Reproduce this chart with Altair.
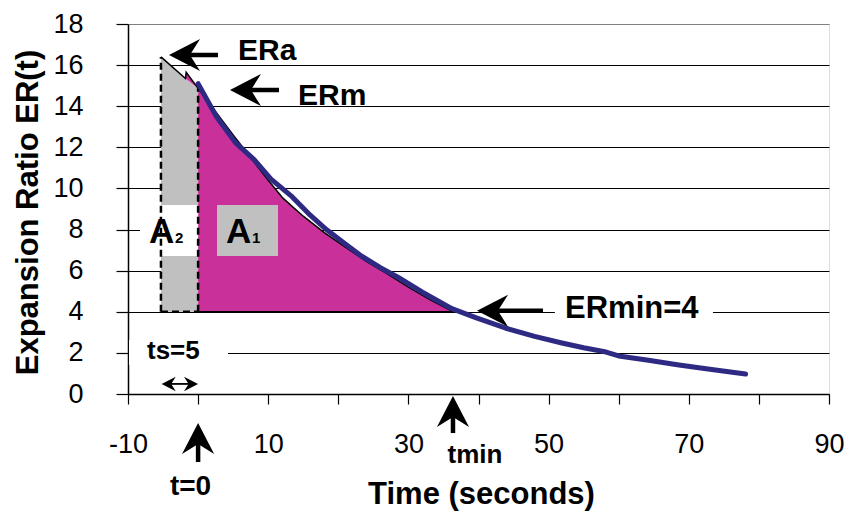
import altair as alt
import pandas as pd

# ---- data ----
# measured expansion ratio (thick blue curve)
t_meas = [0, 2.6, 5.4, 8, 10.4, 13.4, 16, 18.3, 21, 23.1, 26, 28.5, 32, 36.2,
          39.7, 43.9, 48, 51.9, 55, 58.2, 60.0, 64, 68.6, 73, 78.1]
er_meas = [15.1, 13.5, 12.2, 11.4, 10.45, 9.6, 8.7, 8.0, 7.3, 6.76, 6.15, 5.68,
           4.95, 4.15, 3.7, 3.2, 2.8, 2.48, 2.25, 2.04, 1.85, 1.65, 1.41, 1.2, 0.97]

# thin black model curve (starts at ERa, t = -ts)
t_fit = [-5.3, -1.8, -1.7, 0, 5, 10, 12.1, 15, 18, 21, 24, 27, 30, 33, 36.4]
er_fit = [16.4, 15.35, 15.65, 14.87, 12.6, 10.4, 9.53, 8.65, 7.85, 7.15, 6.45,
          5.85, 5.2, 4.6, 4.0]

# grey area A2 (t from -ts to 0)
t_gray = [-5.3, -1.8, 0]
er_gray = [16.4, 15.35, 14.87]

# tiny magenta sliver at the top of the t=0 line
t_spike = [-1.8, -1.7, 0]
er_spike_top = [15.35, 15.65, 14.87]
er_spike_bot = [15.35, 15.32, 14.87]

er_min = 4
t_min = 36.4
t_start = -5.3          # t = -ts
er_a = 16.4             # ERa
er_m = 14.87            # ERm at t = 0

y_ticks = list(range(0, 19, 2))
x_ticks = list(range(-10, 91, 10))

FONT = "Liberation Sans"

xs = alt.Scale(domain=[-10, 90], nice=False, zero=False)
ys = alt.Scale(domain=[0, 18], nice=False, zero=False)

x_axis = alt.Axis(
    values=x_ticks, grid=False,
    labelExpr="abs(datum.value) % 20 == 10 ? toString(datum.value) : ''",
    labelFlush=False, labelFont=FONT, labelFontSize=27, labelColor="black",
    labelBaseline="alphabetic", labelPadding=48, tickSize=10, tickColor="black",
    tickWidth=1.2, domainColor="black", domainWidth=1.5,
    title="Time (seconds)", titleFont=FONT, titleFontSize=31, titleFontWeight="bold",
    titleColor="black", titleX=353, titleY=109, titleBaseline="alphabetic",
    titleAlign="center", labelOverlap=False,
)
y_axis = alt.Axis(
    values=y_ticks, grid=True,
    gridColor={"condition": {"test": "datum.value == 18", "value": "#808080"}, "value": "#000000"},
    gridWidth=1, labelFlush=False, labelFont=FONT, labelFontSize=27, labelColor="black",
    labelPadding=33, tickSize=12, tickColor="black", tickWidth=1.2,
    domainColor="black", domainWidth=1.5,
    title="Expansion Ratio ER(t)", titleFont=FONT, titleFontSize=31,
    titleFontWeight="bold", titleColor="black", titleAngle=270, titleX=-91,
    titleY=188, titleBaseline="alphabetic", titleAlign="center", labelOverlap=False,
)


def X(f):
    return alt.X(f, type="quantitative", scale=xs, axis=x_axis)


def Y(f):
    return alt.Y(f, type="quantitative", scale=ys, axis=y_axis)


layers = []

# grey area A2
df_gray = pd.DataFrame({"t": t_gray, "top": er_gray, "bot": [er_min] * len(t_gray)})
layers.append(alt.Chart(df_gray).mark_area(color="#C0C0C0", opacity=1).encode(
    x=X("t"), y=Y("top"), y2="bot"))

# magenta area A1
fit_pos = [(t, e) for t, e in zip(t_fit, er_fit) if t >= 0]
df_mag = pd.DataFrame({"t": [p[0] for p in fit_pos], "top": [p[1] for p in fit_pos],
                       "bot": [er_min] * len(fit_pos)})
layers.append(alt.Chart(df_mag).mark_area(color="#C9309A", opacity=1).encode(
    x=X("t"), y=Y("top"), y2="bot"))
df_spike = pd.DataFrame({"t": t_spike, "top": er_spike_top, "bot": er_spike_bot})
layers.append(alt.Chart(df_spike).mark_area(color="#C9309A", opacity=1).encode(
    x=X("t"), y=Y("top"), y2="bot"))

# label boxes
boxes = pd.DataFrame({
    "t1": [-8.29, 2.70, 50.9, -9.86],
    "t2": [0.0, 11.40, 73.45, 4.27],
    "e1": [6.71, 6.71, 3.36, 1.41],
    "e2": [9.19, 9.19, 4.82, 2.63],
    "fill": ["white", "#C0C0C0", "white", "white"],
})
layers.append(alt.Chart(boxes).mark_rect(opacity=1).encode(
    x=X("t1"), x2="t2", y=Y("e1"), y2="e2",
    color=alt.Color("fill:N", scale=None)))

# dashed boundaries of A2
dash_v = pd.DataFrame({"t": [t_start, 0], "e1": [er_min, er_min], "e2": [er_a, er_m]})
layers.append(alt.Chart(dash_v).mark_rule(color="black", strokeWidth=2.5,
                                          strokeDash=[7, 4]).encode(
    x=X("t"), y=Y("e1"), y2="e2"))
dash_h = pd.DataFrame({"t1": [t_start], "t2": [0], "e": [er_min]})
layers.append(alt.Chart(dash_h).mark_rule(color="black", strokeWidth=2.5,
                                          strokeDash=[7, 4]).encode(
    x=X("t1"), x2="t2", y=Y("e")))
# solid ER=4 line under A1
solid_h = pd.DataFrame({"t1": [0], "t2": [t_min], "e": [er_min]})
layers.append(alt.Chart(solid_h).mark_rule(color="black", strokeWidth=1.8).encode(
    x=X("t1"), x2="t2", y=Y("e")))

# thin black model curve
df_fit = pd.DataFrame({"t": t_fit, "er": er_fit})
layers.append(alt.Chart(df_fit).mark_line(color="black", strokeWidth=1.5).encode(
    x=X("t"), y=Y("er")))

# thick blue measured curve
df_meas = pd.DataFrame({"t": t_meas, "er": er_meas})
layers.append(alt.Chart(df_meas).mark_line(color="#2E2A84", strokeWidth=5,
                                           strokeCap="round", strokeJoin="round").encode(
    x=X("t"), y=Y("er")))

# arrows: tip, tail, heading
HEAD = "M0,0 L0.73,1.41 L0,0.95 L-0.73,1.41 Z"
arrows = [
    (-4.15, 16.49, 2.84, 16.49, 270),   # ERa
    (4.55, 14.79, 11.54, 14.79, 270),   # ERm
    (39.79, 4.05, 49.2, 4.05, 270),     # ERmin
    (36.36, -0.1, 36.36, -1.9, 0),      # tmin
    (0.0, -1.41, 0.0, -3.31, 0),        # t=0
]
for tt, te, lt, le, ang in arrows:
    st = tt + 0.3 * (lt - tt)
    se = te + 0.3 * (le - te)
    shaft = pd.DataFrame({"t1": [lt], "t2": [st], "e1": [le], "e2": [se]})
    layers.append(alt.Chart(shaft).mark_rule(color="black", strokeWidth=4.5,
                                             strokeCap="butt").encode(
        x=X("t1"), x2="t2", y=Y("e1"), y2="e2"))
    head = pd.DataFrame({"t": [tt], "e": [te]})
    layers.append(alt.Chart(head).mark_point(shape=HEAD, filled=True, color="black",
                                             opacity=1, size=1936, angle=ang,
                                             strokeWidth=0).encode(
        x=X("t"), y=Y("e")))

# ts double arrow
ts_arrow = (-5.2, 0.0, 0.49)
shaft = pd.DataFrame({"t1": [ts_arrow[0] + 0.6], "t2": [ts_arrow[1] - 0.6],
                      "e": [ts_arrow[2]]})
layers.append(alt.Chart(shaft).mark_rule(color="black", strokeWidth=1.8).encode(
    x=X("t1"), x2="t2", y=Y("e")))
for tt, ang in [(ts_arrow[0], 270), (ts_arrow[1], 90)]:
    head = pd.DataFrame({"t": [tt], "e": [ts_arrow[2]]})
    layers.append(alt.Chart(head).mark_point(shape=HEAD, filled=True, color="black",
                                             opacity=1, size=400, angle=ang,
                                             strokeWidth=0).encode(
        x=X("t"), y=Y("e")))

# text labels: text, t, ER, font size, align
labels = [
    ("ERa", 5.69, 16.25, 30, "left"),
    ("ERm", 14.25, 14.06, 30, "left"),
    ("ERmin=4", 52.34, 3.70, 31, "left"),
    ("ts=5", -7.29, 1.70, 26, "left"),
    ("t=0", -1.08, -4.91, 28, "center"),
    ("tmin", 39.5, -3.36, 26, "center"),
    ("A", -7.0, 7.35, 35, "left"),
    ("2", -3.3, 7.35, 15, "left"),
    ("A", 3.98, 7.35, 35, "left"),
    ("1", 7.69, 7.35, 15, "left"),
]
for txt, tt, te, fs, al in labels:
    d = pd.DataFrame({"t": [tt], "e": [te], "txt": [txt]})
    layers.append(alt.Chart(d).mark_text(font=FONT, fontSize=fs, fontWeight="bold",
                                         color="black", align=al,
                                         baseline="alphabetic").encode(
        x=X("t"), y=Y("e"), text="txt:N"))

chart = alt.layer(*layers).properties(
    width=701, height=370,
    autosize=alt.AutoSizeParams(type="none"),
    padding={"left": 128, "top": 24, "right": 21, "bottom": 119},
).configure_view(stroke="#808080", strokeWidth=1).configure(background="white")

chart.save("out.html", embed_options={"renderer": "svg", "actions": False})
